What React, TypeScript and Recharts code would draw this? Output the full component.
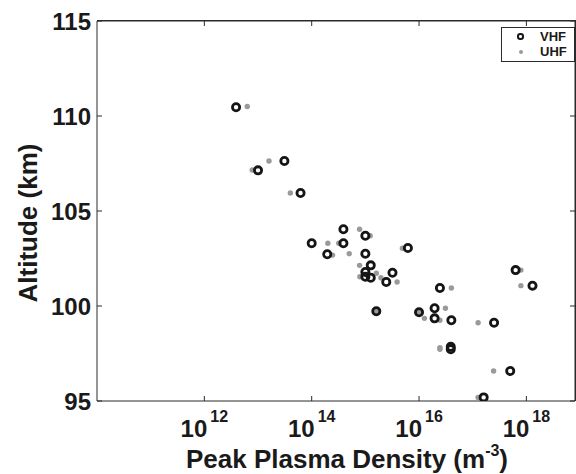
import { ScatterChart, Scatter, XAxis, YAxis } from 'recharts';

// peak plasma density (m^-3) and altitude (km)
const vhfDensity = [
  3.9e12, 3.1e13, 1.0e13, 6.2e13, 1.0e14, 1.95e14, 3.9e14, 3.9e14, 1.0e15, 1.0e15,
  1.26e15, 1.0e15, 1.0e15, 1.26e15, 3.2e15, 2.45e15, 6.2e15, 1.6e15, 1.0e16, 2.45e16,
  1.95e16, 1.95e16, 4.0e16, 3.9e16, 3.9e16, 2.5e17, 6.3e17, 1.3e18, 5.0e17, 1.6e17,
];
const vhfAltitude = [
  110.46, 107.63, 107.14, 105.95, 103.3, 102.72, 104.04, 103.3, 103.7, 102.75,
  102.14, 101.79, 101.54, 101.49, 101.75, 101.26, 103.05, 99.72, 99.67, 100.95,
  99.88, 99.35, 99.25, 97.85, 97.72, 99.12, 101.89, 101.07, 96.58, 95.19,
];
const uhfDensity = [
  6.3e12, 1.6e13, 7.8e12, 4.0e13, 2.0e14, 2.45e14, 3.2e14, 5.0e14, 7.8e14, 1.23e15,
  7.8e14, 7.9e14, 1.6e15, 1.95e15, 3.9e15, 4.9e15, 1.6e15, 1.0e16, 1.26e16, 4.0e16,
  3.1e16, 2.45e16, 2.45e16, 2.45e16, 1.26e17, 7.9e17, 7.9e17, 2.45e17, 1.26e17,
];
const uhfAltitude = [
  110.5, 107.63, 107.16, 105.95, 103.3, 102.68, 103.3, 102.75, 104.04, 103.7,
  102.14, 101.54, 101.72, 101.49, 101.26, 103.04, 99.72, 99.67, 99.35, 100.95,
  99.88, 99.25, 97.81, 97.72, 99.12, 101.89, 101.07, 96.58, 95.19,
];
const xTicks = [1e12, 1e14, 1e16, 1e18];
const yTicks = [95, 100, 105, 110, 115];

const vhf = vhfDensity.map((d, i) => ({ density: d, altitude: vhfAltitude[i] }));
const uhf = uhfDensity.map((d, i) => ({ density: d, altitude: uhfAltitude[i] }));

const FONT = '"Liberation Sans", Arial, sans-serif';
const INK = '#1a1a1a';
const AXIS = '#2a2a2a';

const xDomain = [1e10, 8.05e18];
const yDomain = [95, 115];

// bottom/left ticks: tickSize 0 so x/y sit on the axis line; marks point inward
const BottomTick = ({ x, y, payload }: any) => {
  const exp = Math.round(Math.log10(payload.value));
  return (
    <g>
      <line x1={x} x2={x} y1={y} y2={y - 5} stroke={AXIS} />
      <text x={x} y={y + 36} textAnchor="middle" fill={INK} fontFamily={FONT} fontWeight="bold" fontSize={24}>
        <tspan>10</tspan>
        <tspan dx={3} dy={-15.5} fontSize={16}>{exp}</tspan>
      </text>
    </g>
  );
};

const LeftTick = ({ x, y, payload }: any) => (
  <g>
    <line x1={x} x2={x + 5} y1={y} y2={y} stroke={AXIS} />
    <text x={x - 6} y={y + 8.5} textAnchor="end" fill={INK} fontFamily={FONT} fontWeight="bold" fontSize={24}>
      {payload.value}
    </text>
  </g>
);

// top/right: default tickSize 6 + tickMargin 2, so the axis line is 8px back
const TopTick = ({ x, y }: any) => <line x1={x} x2={x} y1={y + 8} y2={y + 13} stroke={AXIS} />;
const RightTick = ({ x, y }: any) => <line x1={x - 8} x2={x - 13} y1={y} y2={y} stroke={AXIS} />;

const XLabel = ({ viewBox }: any) => (
  <text
    x={viewBox.x + viewBox.width / 2 + 11}
    y={viewBox.y + 67}
    textAnchor="middle"
    fill={INK}
    fontFamily={FONT}
    fontWeight="bold"
    fontSize={26}
  >
    <tspan>Peak Plasma Density (m</tspan>
    <tspan dy={-12} fontSize={16}>-3</tspan>
    <tspan dy={12}>)</tspan>
  </text>
);

const YLabel = ({ viewBox }: any) => (
  <text
    transform={`translate(${viewBox.x + 37},${viewBox.y + viewBox.height / 2 + 12}) rotate(-90)`}
    textAnchor="middle"
    fill={INK}
    fontFamily={FONT}
    fontWeight="bold"
    fontSize={26}
  >
    Altitude (km)
  </text>
);

const Ring = ({ cx, cy }: any) => (
  <circle cx={cx} cy={cy} r={3.6} fill="none" stroke="#151515" strokeWidth={2.8} />
);
const Dot = ({ cx, cy }: any) => <circle cx={cx} cy={cy} r={2.7} fill="#9a9a9a" />;
const Nothing = () => <g />;

const legendText = { fontFamily: FONT, fontWeight: 'bold' as const, fontSize: 13, color: INK, lineHeight: '15px' };

export default function App() {
  return (
    <div style={{ position: 'absolute', left: 0, top: 0, width: 576, height: 474, overflow: 'hidden', background: '#fff' }}>
      <ScatterChart width={585} height={474} margin={{ top: 11, right: 0, bottom: 0, left: 0 }}>
        <XAxis
          dataKey="density"
          type="number"
          scale="log"
          domain={xDomain}
          allowDataOverflow
          ticks={xTicks}
          interval={0}
          height={73}
          tickSize={0}
          tickMargin={0}
          stroke={AXIS}
          tick={<BottomTick />}
          label={<XLabel />}
        />
        <XAxis
          xAxisId="top"
          orientation="top"
          dataKey="density"
          type="number"
          scale="log"
          domain={xDomain}
          allowDataOverflow
          ticks={xTicks}
          interval={0}
          height={10}
          tickLine={false}
          stroke={AXIS}
          tick={<TopTick />}
        />
        <YAxis
          dataKey="altitude"
          type="number"
          domain={yDomain}
          allowDataOverflow
          ticks={yTicks}
          interval={0}
          width={97}
          tickSize={0}
          tickMargin={0}
          stroke={AXIS}
          tick={<LeftTick />}
          label={<YLabel />}
        />
        <YAxis
          yAxisId="right"
          orientation="right"
          dataKey="altitude"
          type="number"
          domain={yDomain}
          allowDataOverflow
          ticks={yTicks}
          interval={0}
          width={10}
          tickLine={false}
          stroke={AXIS}
          tick={<RightTick />}
        />
        <Scatter name="UHF" data={uhf} shape={<Dot />} isAnimationActive={false} />
        <Scatter name="VHF" data={vhf} shape={<Ring />} isAnimationActive={false} />
        <Scatter xAxisId="top" yAxisId="right" data={vhf} shape={<Nothing />} isAnimationActive={false} legendType="none" />
      </ScatterChart>

      {/* box edges on top and right of the plot area */}
      <div
        style={{
          position: 'absolute',
          left: 97,
          top: 20,
          width: 479,
          height: 381,
          boxSizing: 'border-box',
          borderTop: `1px solid ${AXIS}`,
          borderRight: `1px solid ${AXIS}`,
          pointerEvents: 'none',
        }}
      />

      <div
        style={{
          position: 'absolute',
          left: 501,
          top: 27,
          width: 72,
          height: 33,
          border: `1px solid ${AXIS}`,
          background: '#fff',
          boxSizing: 'content-box',
        }}
      >
        <div style={{ position: 'absolute', left: 15, top: 5, width: 2.5, height: 2.5, borderRadius: '50%', border: '2.4px solid #151515' }} />
        <div style={{ ...legendText, position: 'absolute', left: 38, top: 1 }}>VHF</div>
        <div style={{ position: 'absolute', left: 16.5, top: 21.5, width: 4.6, height: 4.6, borderRadius: '50%', background: '#9a9a9a' }} />
        <div style={{ ...legendText, position: 'absolute', left: 38, top: 16 }}>UHF</div>
      </div>
    </div>
  );
}
